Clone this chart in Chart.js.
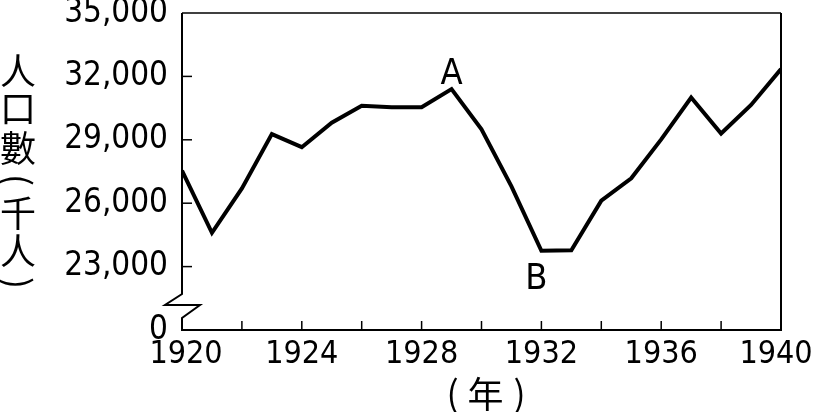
<!DOCTYPE html>
<html>
<head>
<meta charset="utf-8">
<script src="https://cdn.jsdelivr.net/npm/chart.js@4.4.1/dist/chart.umd.min.js"></script>
<style>
  html, body { margin: 0; padding: 0; background: #fff; }
  #wrap { width: 813px; height: 412px; }
</style>
</head>
<body>
<div id="wrap"><canvas id="pop"></canvas></div>
<script>
// data
const years = [1920, 1921, 1922, 1923, 1924, 1925, 1926, 1927, 1928, 1929, 1930,
               1931, 1932, 1933, 1934, 1935, 1936, 1937, 1938, 1939, 1940];
const population = [27540, 24600, 26700, 29270, 28650, 29810, 30610, 30540, 30540, 31400, 29500,
                    26800, 23750, 23770, 26120, 27180, 29020, 31000, 29300, 30650, 32350];
const xLabelYears = [1920, 1924, 1928, 1932, 1936, 1940];
const xMinorYears = [1922, 1924, 1926, 1928, 1930, 1932, 1934, 1936, 1938];
const yTickValues = [20000, 23000, 26000, 29000, 32000, 35000];
const yInnerTicks = [23000, 26000, 29000, 32000];
const breakValue = 20000;   // shown as "0" under the axis break
const marks = [{ year: 1929, text: 'A', side: 'above' }, { year: 1932, text: 'B', side: 'below' }];
const yTitle = ['人', '口', '數', '(', '千', '人', ')'];
const yTitlePos = [71, 108, 148, 180, 213, 251, 283];

const latin = "'DejaVu Sans Condensed', 'DejaVu Sans', sans-serif";
const cjk = "'Noto Sans CJK TC', 'Noto Sans CJK SC', sans-serif";

// frame, broken axis, inward ticks, labels, A/B and titles
const decor = {
  id: 'decor',
  afterDraw(chart) {
    const ctx = chart.ctx;
    const a = chart.chartArea;
    const xs = chart.scales.x, ys = chart.scales.y;
    ctx.save();
    ctx.strokeStyle = '#000';
    ctx.fillStyle = '#000';
    ctx.lineCap = 'butt';

    // top and right
    ctx.lineWidth = 1.5;
    ctx.beginPath();
    ctx.moveTo(a.left, a.top);
    ctx.lineTo(a.right, a.top);
    ctx.stroke();
    ctx.lineWidth = 2;
    ctx.beginPath();
    ctx.moveTo(a.right, a.top);
    ctx.lineTo(a.right, a.bottom);
    ctx.stroke();

    // bottom axis
    ctx.beginPath();
    ctx.moveTo(a.left, a.bottom);
    ctx.lineTo(a.right + 1, a.bottom);
    ctx.stroke();

    // left axis with the break
    ctx.lineJoin = 'miter';
    ctx.beginPath();
    ctx.moveTo(a.left, a.top);
    ctx.lineTo(a.left, a.bottom - 36);
    ctx.lineTo(a.left - 17, a.bottom - 25);
    ctx.lineTo(a.left + 18, a.bottom - 25);
    ctx.lineTo(a.left, a.bottom - 12);
    ctx.lineTo(a.left, a.bottom + 1);
    ctx.stroke();

    // inward ticks
    ctx.lineWidth = 1.5;
    yInnerTicks.forEach(v => {
      const y = ys.getPixelForValue(v);
      ctx.beginPath();
      ctx.moveTo(a.left, y);
      ctx.lineTo(a.left + 10, y);
      ctx.stroke();
    });
    xMinorYears.forEach(v => {
      const x = xs.getPixelForValue(v);
      ctx.beginPath();
      ctx.moveTo(x, a.bottom);
      ctx.lineTo(x, a.bottom - 9);
      ctx.stroke();
    });

    // year labels (ends nudged inward like the original)
    ctx.font = '32px ' + latin;
    ctx.textAlign = 'center';
    ctx.textBaseline = 'top';
    xLabelYears.forEach((yr, k) => {
      let x = xs.getPixelForValue(yr);
      if (k === 0) x += 4;
      if (k === xLabelYears.length - 1) x -= 5;
      ctx.fillText(String(yr), x, a.bottom + 9);
    });

    // A / B
    ctx.font = '36px ' + latin;
    marks.forEach(m => {
      const i = years.indexOf(m.year);
      const x = xs.getPixelForValue(m.year);
      const y = ys.getPixelForValue(population[i]);
      if (m.side === 'above') {
        ctx.textBaseline = 'alphabetic';
        ctx.fillText(m.text, x, y - 5);
      } else {
        ctx.textBaseline = 'middle';
        ctx.fillText(m.text, x - 5, y + 29);
      }
    });

    // vertical y title, brackets turned sideways
    ctx.font = '36px ' + cjk;
    ctx.textBaseline = 'middle';
    yTitle.forEach((ch, k) => {
      if (ch === '(' || ch === ')') {
        ctx.save();
        ctx.translate(18, yTitlePos[k]);
        ctx.rotate(Math.PI / 2);
        ctx.fillText(ch, 0, 0);
        ctx.restore();
      } else {
        ctx.fillText(ch, 18, yTitlePos[k]);
      }
    });

    // x title
    const cx = (a.left + a.right) / 2 + 4;
    ctx.fillText('(', cx - 33, 393);
    ctx.fillText('年', cx, 394);
    ctx.fillText(')', cx + 34, 393);
    ctx.restore();
  }
};

new Chart(document.getElementById('pop'), {
  type: 'line',
  data: {
    datasets: [{
      data: years.map((yr, i) => ({ x: yr, y: population[i] })),
      borderColor: '#000',
      borderWidth: 4,
      borderJoinStyle: 'miter',
      pointRadius: 0,
      tension: 0,
      fill: false
    }]
  },
  options: {
    responsive: true,
    maintainAspectRatio: false,
    animation: false,
    layout: { padding: { top: 13, right: 32, left: 0, bottom: 0 } },
    plugins: { legend: { display: false }, tooltip: { enabled: false } },
    scales: {
      x: {
        type: 'linear',
        min: 1920,
        max: 1940,
        grid: { display: false, drawTicks: false },
        border: { display: false },
        afterBuildTicks: s => { s.ticks = xLabelYears.map(v => ({ value: v })); },
        ticks: { display: false },
        afterFit: s => { s.height = 82; s.paddingLeft = 0; s.paddingRight = 0; }
      },
      y: {
        min: 20000,
        max: 35000,
        grid: { display: false, drawTicks: false },
        border: { display: false },
        afterBuildTicks: s => { s.ticks = yTickValues.map(v => ({ value: v })); },
        ticks: {
          color: '#000',
          font: { family: latin, size: 33 },
          padding: 14,
          callback: v => v === breakValue ? '0' : v.toLocaleString('en-US')
        },
        afterFit: s => { s.width = 182; s.paddingTop = 0; s.paddingBottom = 0; }
      }
    }
  },
  plugins: [decor]
});
</script>
</body>
</html>
